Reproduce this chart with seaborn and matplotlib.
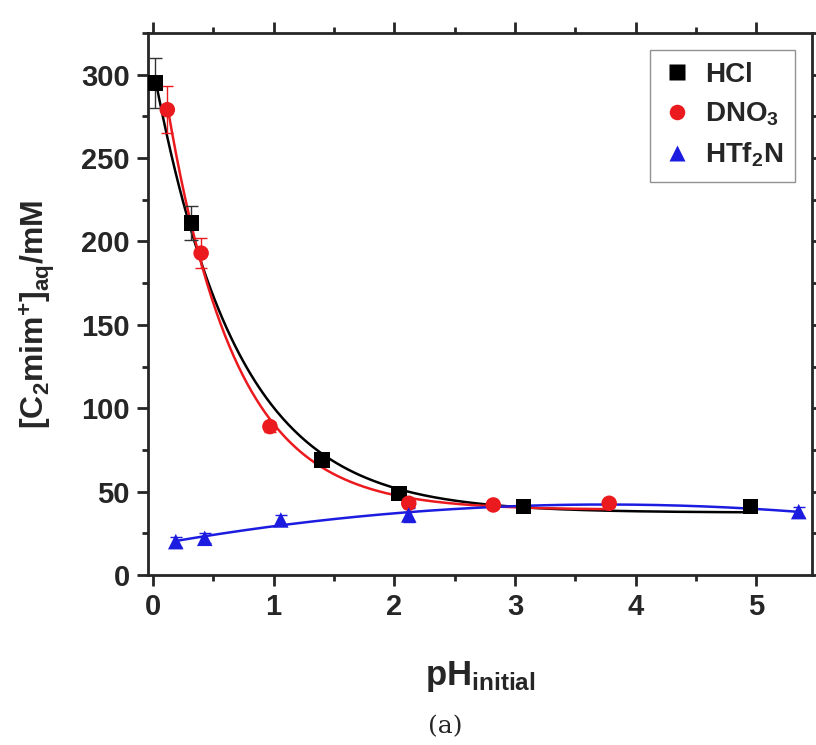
import numpy as np
import pandas as pd
import matplotlib
matplotlib.use("Agg")
import matplotlib.pyplot as plt
import seaborn as sns
from matplotlib.ticker import MultipleLocator

# ---- data ----
hcl_x = [0.02, 0.32, 1.40, 2.04, 3.07, 4.95]
hcl_y = [295, 211, 69, 49, 41, 41]
hcl_err = [15, 10, 3, 2, 2, 2]

dno3_x = [0.12, 0.40, 0.97, 2.12, 2.82, 3.78]
dno3_y = [279, 193, 89, 43, 42, 43]
dno3_err = [14, 9, 3, 2, 2, 2]

htf2n_x = [0.19, 0.43, 1.06, 2.12, 5.35]
htf2n_y = [20, 22, 33, 36, 38]
htf2n_err = [3, 3, 3, 4, 3]

labels = ["HCl", r"DNO$_\mathregular{3}$", r"HTf$_\mathregular{2}$N"]
xticks = [0, 1, 2, 3, 4, 5]
yticks = [0, 50, 100, 150, 200, 250, 300]

sns.set_style("ticks")
plt.rcParams["font.family"] = ["Liberation Sans", "DejaVu Sans"]
plt.rcParams["font.weight"] = "bold"
plt.rcParams["mathtext.fontset"] = "custom"
plt.rcParams["mathtext.rm"] = "Liberation Sans:bold"
plt.rcParams["mathtext.it"] = "Liberation Sans:bold"
plt.rcParams["mathtext.bf"] = "Liberation Sans:bold"

BLACK, RED, BLUE = "#000000", "#ea1a1e", "#1c1ce0"

fig = plt.figure(figsize=(8.16, 7.45), dpi=100)
ax = fig.add_axes([148 / 816, 1 - 575 / 745, 664 / 816, 542 / 745])


def exp_fit(x, y):
    x = np.asarray(x, float); y = np.asarray(y, float)
    best = None
    for k in np.linspace(0.3, 6, 1200):
        A = np.column_stack([np.ones_like(x), np.exp(-k * x)])
        coef, *_ = np.linalg.lstsq(A, y, rcond=None)
        r = np.sum((A @ coef - y) ** 2)
        if best is None or r < best[0]:
            best = (r, k, coef)
    _, k, coef = best
    xs = np.linspace(x.min(), x.max(), 300)
    return xs, coef[0] + coef[1] * np.exp(-k * xs)


def poly_fit(x, y, deg=2):
    p = np.polyfit(x, y, deg)
    xs = np.linspace(min(x), max(x), 300)
    return xs, np.polyval(p, xs)


fx, fy = exp_fit(hcl_x, hcl_y)
sns.lineplot(x=fx, y=fy, ax=ax, color=BLACK, lw=1.8, zorder=2)
fx, fy = exp_fit(dno3_x, dno3_y)
sns.lineplot(x=fx, y=fy, ax=ax, color=RED, lw=1.8, zorder=2)
fx, fy = poly_fit(htf2n_x, htf2n_y)
sns.lineplot(x=fx, y=fy, ax=ax, color=BLUE, lw=1.8, zorder=2)

ax.errorbar(hcl_x, hcl_y, yerr=hcl_err, fmt="none", ecolor="#333333", elinewidth=1, capsize=5, zorder=3)
ax.errorbar(dno3_x, dno3_y, yerr=dno3_err, fmt="none", ecolor=RED, elinewidth=1, capsize=4, zorder=3)
ax.errorbar(htf2n_x, htf2n_y, yerr=htf2n_err, fmt="none", ecolor=BLUE, elinewidth=1, capsize=4, zorder=3)

df = pd.concat([
    pd.DataFrame({"x": hcl_x, "y": hcl_y, "s": labels[0]}),
    pd.DataFrame({"x": dno3_x, "y": dno3_y, "s": labels[1]}),
    pd.DataFrame({"x": htf2n_x, "y": htf2n_y, "s": labels[2]}),
])
sns.scatterplot(data=df, x="x", y="y", hue="s", style="s",
                palette=[BLACK, RED, BLUE], markers=["s", "o", "^"],
                s=125, edgecolor="none", ax=ax, zorder=4)

ax.set_xlim(-0.04, 5.46)
ax.set_ylim(0, 325)
ax.set_xticks(xticks)
ax.set_yticks(yticks)
ax.xaxis.set_minor_locator(MultipleLocator(0.5))
ax.yaxis.set_minor_locator(MultipleLocator(25))
ax.tick_params(which="both", direction="out", top=True, right=True,
               width=2, labelsize=21, pad=5)
ax.tick_params(which="major", length=8)
ax.tick_params(which="minor", length=4.5)
for lab in ax.get_xticklabels() + ax.get_yticklabels():
    lab.set_fontweight("bold")
for sp in ax.spines.values():
    sp.set_linewidth(2)
    sp.set_visible(True)

ax.set_xlabel(r"pH$_\mathregular{initial}$", fontsize=25, fontweight="bold", va="top")
ax.xaxis.set_label_coords(0.5, -0.155)
ax.set_ylabel(r"[C$_\mathregular{2}$mim$^\mathregular{+}$]$_\mathregular{aq}$/mM", fontsize=23,
              fontweight="bold", va="center")
ax.yaxis.set_label_coords(-0.167, 0.48)

leg = ax.legend(loc="upper right", fontsize=20, frameon=True, fancybox=False,
                handletextpad=0.5, borderpad=0.45, labelspacing=0.45,
                borderaxespad=0.6, markerscale=1.0, handlelength=1.0)
leg.get_frame().set_edgecolor("#777777")
leg.get_frame().set_linewidth(1)
for t in leg.get_texts():
    t.set_fontweight("bold")

fig.text(445 / 816, 1 - 727 / 745, "(a)", ha="center", va="center", fontsize=18,
         family=["DejaVu Serif"], fontweight="normal")

fig.savefig("out.png", dpi=100)
